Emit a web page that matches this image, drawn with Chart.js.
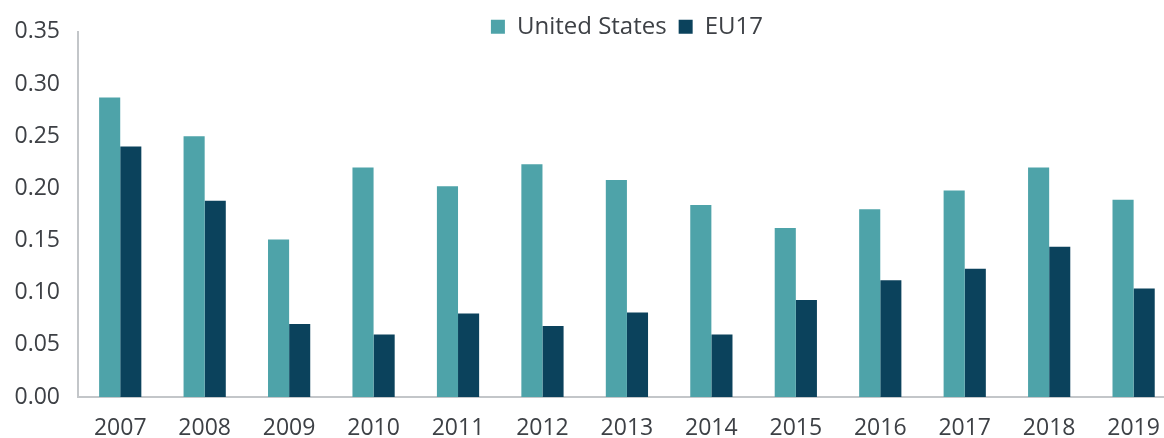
<!DOCTYPE html>
<html>
<head>
<meta charset="utf-8">
<script src="https://cdn.jsdelivr.net/npm/chart.js@4"></script>
<style>
  html, body { margin: 0; padding: 0; background: #fff; overflow: hidden; }
  #wrap { width: 1178px; height: 438px; }
</style>
</head>
<body>
<div id="wrap"><canvas id="chart"></canvas></div>
<script>
const years = ["2007", "2008", "2009", "2010", "2011", "2012", "2013",
               "2014", "2015", "2016", "2017", "2018", "2019"];
const unitedStates = [0.287, 0.250, 0.151, 0.220, 0.202, 0.223, 0.208,
                      0.184, 0.162, 0.180, 0.198, 0.220, 0.189];
const eu17 = [0.240, 0.188, 0.070, 0.060, 0.080, 0.068, 0.081,
              0.060, 0.093, 0.112, 0.123, 0.144, 0.104];

const TEXT = "#3d4045";
const FONT = "'Open Sans', 'Noto Sans', sans-serif";

// legend: fixed height, centred over the plot area rather than the canvas,
// and allowed to overhang the plot top (its clip box is widened after layout)
const legendPlace = {
  id: "legendPlace",
  beforeInit(chart) {
    const fit = chart.legend.fit;
    chart.legend.fit = function () {
      fit.bind(this)();
      this.height = 29;
    };
  },
  afterLayout(chart) {
    chart.legend.left = chart.chartArea.left;
    chart.legend.right = chart.chartArea.right;
    chart.legend.bottom = chart.legend.top + 45;
  },
};

new Chart(document.getElementById("chart"), {
  type: "bar",
  plugins: [legendPlace],
  data: {
    labels: years,
    datasets: [
      { label: "United States", data: unitedStates, backgroundColor: "#4ea3a9" },
      { label: "EU17", data: eu17, backgroundColor: "#0b425c" },
    ],
  },
  options: {
    responsive: true,
    maintainAspectRatio: false,
    animation: false,
    layout: { padding: { top: 2, right: 2, bottom: 0, left: 0 } },
    datasets: { bar: { categoryPercentage: 0.5, barPercentage: 1.0 } },
    plugins: {
      tooltip: { enabled: false },
      legend: {
        position: "top",
        labels: {
          boxWidth: 14,
          boxHeight: 14,
          padding: 12,
          color: TEXT,
          font: { family: FONT, size: 24 },
        },
      },
    },
    scales: {
      x: {
        grid: { display: false, drawTicks: false },
        border: { color: "#c3c6c9", width: 2 },
        ticks: { color: TEXT, padding: 18, maxRotation: 0, font: { family: FONT, size: 23 } },
        afterFit(s) { s.height = 41; },
      },
      y: {
        min: 0,
        max: 0.35,
        grid: { display: false, drawTicks: false },
        border: { color: "#c3c6c9", width: 2 },
        ticks: {
          stepSize: 0.05,
          padding: 18,
          color: TEXT,
          font: { family: FONT, size: 23 },
          callback: (v) => v.toFixed(2),
        },
        afterFit(s) { s.width = 78; },
      },
    },
  },
});
</script>
</body>
</html>
